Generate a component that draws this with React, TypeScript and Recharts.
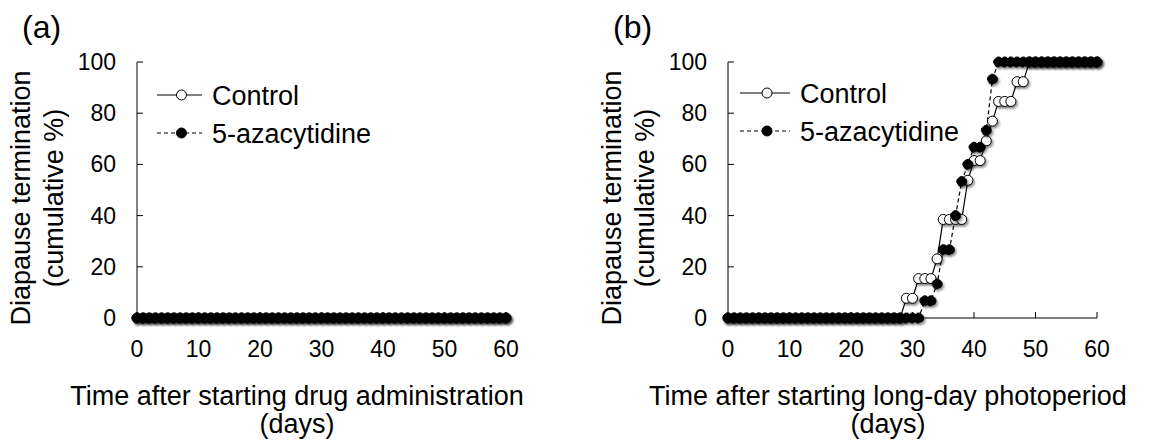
import React from "react";
import { LineChart, Line, XAxis, YAxis, Legend } from "recharts";

// days after start (x categories)
const days = [
  0, 1, 2, 3, 4, 5, 6, 7, 8, 9, 10, 11, 12, 13, 14, 15, 16, 17, 18, 19, 20,
  21, 22, 23, 24, 25, 26, 27, 28, 29, 30, 31, 32, 33, 34, 35, 36, 37, 38, 39, 40,
  41, 42, 43, 44, 45, 46, 47, 48, 49, 50, 51, 52, 53, 54, 55, 56, 57, 58, 59, 60,
];

// (a) drug administration: no diapause termination in either group
const controlA = [
  0, 0, 0, 0, 0, 0, 0, 0, 0, 0, 0, 0, 0, 0, 0, 0, 0, 0, 0, 0, 0,
  0, 0, 0, 0, 0, 0, 0, 0, 0, 0, 0, 0, 0, 0, 0, 0, 0, 0, 0, 0,
  0, 0, 0, 0, 0, 0, 0, 0, 0, 0, 0, 0, 0, 0, 0, 0, 0, 0, 0, 0,
];
const azaA = [
  0, 0, 0, 0, 0, 0, 0, 0, 0, 0, 0, 0, 0, 0, 0, 0, 0, 0, 0, 0, 0,
  0, 0, 0, 0, 0, 0, 0, 0, 0, 0, 0, 0, 0, 0, 0, 0, 0, 0, 0, 0,
  0, 0, 0, 0, 0, 0, 0, 0, 0, 0, 0, 0, 0, 0, 0, 0, 0, 0, 0, 0,
];

// (b) long-day photoperiod
const controlB = [
  0, 0, 0, 0, 0, 0, 0, 0, 0, 0, 0, 0, 0, 0, 0, 0, 0, 0, 0, 0, 0,
  0, 0, 0, 0, 0, 0, 0, 0, 7.7, 7.7, 15.4, 15.4, 15.4, 23.1, 38.5, 38.5, 38.5, 38.5, 53.8, 61.5,
  61.5, 69.2, 76.9, 84.6, 84.6, 84.6, 92.3, 92.3, 100, 100, 100, 100, 100, 100, 100, 100, 100, 100, 100, 100,
];
const azaB = [
  0, 0, 0, 0, 0, 0, 0, 0, 0, 0, 0, 0, 0, 0, 0, 0, 0, 0, 0, 0, 0,
  0, 0, 0, 0, 0, 0, 0, 0, 0, 0, 0, 6.7, 6.7, 13.3, 26.7, 26.7, 40, 53.3, 60, 66.7,
  66.7, 73.3, 93.3, 100, 100, 100, 100, 100, 100, 100, 100, 100, 100, 100, 100, 100, 100, 100, 100, 100,
];

const seriesKeys = ["control", "aza"];
const seriesNames = ["Control", "5-azacytidine"];

const xTicks = [0, 10, 20, 30, 40, 50, 60];
const yTicks = [0, 20, 40, 60, 80, 100];

const FONT = "'Liberation Sans', Arial, sans-serif";

const XTick = (props: any) => {
  const { x, y, payload } = props;
  return (
    <g>
      <line x1={x} x2={x} y1={y} y2={y - 6} stroke="#000" strokeWidth={1} />
      <text x={x} y={y + 39} textAnchor="middle" fontSize={23} fontFamily={FONT} fill="#000">
        {payload.value}
      </text>
    </g>
  );
};

const YTick = (props: any) => {
  const { x, y, payload } = props;
  return (
    <g>
      <line x1={x} x2={x + 6} y1={y} y2={y} stroke="#000" strokeWidth={1} />
      <text x={x - 21} y={y + 8} textAnchor="end" fontSize={23} fontFamily={FONT} fill="#000">
        {payload.value}
      </text>
    </g>
  );
};

function LegendBox({ payload, lineLen }: any) {
  // keep legend rows in series order (Recharts sorts by name otherwise)
  const items = [...(payload || [])].sort(
    (p: any, q: any) => seriesKeys.indexOf(p.dataKey) - seriesKeys.indexOf(q.dataKey)
  );
  return (
    <svg width={300} height={90} style={{ overflow: "visible" }}>
      {items.map((entry: any, i: number) => {
        const cy = 12 + i * 38;
        const dashed = entry.dataKey === "aza";
        return (
          <g key={entry.dataKey}>
            <line
              x1={0}
              x2={lineLen}
              y1={cy}
              y2={cy}
              stroke="#000"
              strokeWidth={1.2}
              strokeDasharray={dashed ? "4 3" : undefined}
            />
            <circle
              cx={lineLen / 2 + 2}
              cy={cy}
              r={5}
              fill={dashed ? "#000" : "#fff"}
              stroke="#000"
              strokeWidth={1}
            />
            <text x={lineLen + 10} y={cy + 9.5} fontSize={27} fontFamily={FONT} fill="#000">
              {entry.value}
            </text>
          </g>
        );
      })}
    </svg>
  );
}

function Panel({
  left,
  width,
  control,
  aza,
  legendLeft,
  legendTop,
  lineLen,
}: {
  left: number;
  width: number;
  control: number[];
  aza: number[];
  legendLeft: number;
  legendTop: number;
  lineLen: number;
}) {
  const data = days.map((d, i) => ({ day: d, control: control[i], aza: aza[i] }));
  return (
    <div style={{ position: "absolute", left, top: 0 }}>
      <LineChart
        width={width}
        height={441}
        data={data}
        margin={{ top: 62, right: width - 506, bottom: 83, left: 0 }}
      >
        <XAxis
          dataKey="day"
          type="number"
          domain={[0, 60]}
          ticks={xTicks}
          height={40}
          tickSize={0}
          tickMargin={0}
          tickLine={false}
          axisLine={{ stroke: "#000", strokeWidth: 1 }}
          tick={(p: any) => <XTick {...p} />}
        />
        <YAxis
          type="number"
          domain={[0, 100]}
          ticks={yTicks}
          width={137}
          tickSize={0}
          tickMargin={0}
          tickLine={false}
          axisLine={{ stroke: "#000", strokeWidth: 1 }}
          tick={(p: any) => <YTick {...p} />}
        />
        <Legend
          layout="horizontal"
          align="center"
          verticalAlign="middle"
          wrapperStyle={{ left: legendLeft, top: legendTop, width: 300, height: 90 }}
          content={(props: any) => <LegendBox {...props} lineLen={lineLen} />}
        />
        <Line
          name={seriesNames[0]}
          dataKey="control"
          type="linear"
          stroke="#000"
          strokeWidth={1.2}
          dot={{ r: 5, fill: "#fff", stroke: "#000", strokeWidth: 1, filter: "url(#markShadow)" }}
          activeDot={false}
          isAnimationActive={false}
        />
        <Line
          name={seriesNames[1]}
          dataKey="aza"
          type="linear"
          stroke="#000"
          strokeWidth={1.2}
          strokeDasharray="4 3"
          dot={{ r: 5, fill: "#000", stroke: "#000", strokeWidth: 1, filter: "url(#markShadow)" }}
          activeDot={false}
          isAnimationActive={false}
        />
      </LineChart>
    </div>
  );
}

function Titles({ dx, letter, xTitle }: { dx: number; letter: string; xTitle: string }) {
  return (
    <g fontFamily={FONT} fill="#000">
      <text x={22 + dx} y={38} fontSize={32}>
        {letter}
      </text>
      <text transform={`translate(${30 + dx},198) rotate(-90)`} textAnchor="middle" fontSize={27}>
        Diapause termination
      </text>
      <text transform={`translate(${63 + dx},198) rotate(-90)`} textAnchor="middle" fontSize={27}>
        (cumulative %)
      </text>
      <text x={297 + dx} y={405} textAnchor="middle" fontSize={27}>
        {xTitle}
      </text>
      <text x={297 + dx} y={433} textAnchor="middle" fontSize={27}>
        (days)
      </text>
    </g>
  );
}

export default function App() {
  return (
    <div
      style={{
        position: "absolute",
        left: 0,
        top: 0,
        width: 1153,
        height: 441,
        overflow: "hidden",
        background: "#fff",
      }}
    >
      <Panel left={0} width={576} control={controlA} aza={azaA} legendLeft={157} legendTop={83} lineLen={45} />
      <Panel left={591} width={562} control={controlB} aza={azaB} legendLeft={149} legendTop={81} lineLen={50} />
      <svg
        width={1153}
        height={441}
        style={{ position: "absolute", left: 0, top: 0, pointerEvents: "none" }}
      >
        <defs>
          <filter id="markShadow" x="-60%" y="-60%" width="240%" height="240%">
            <feDropShadow dx={1.5} dy={2} stdDeviation={1.3} floodColor="#000" floodOpacity={0.45} />
          </filter>
        </defs>
        <Titles dx={0} letter="(a)" xTitle="Time after starting drug administration" />
        <Titles dx={591} letter="(b)" xTitle="Time after starting long-day photoperiod" />
      </svg>
    </div>
  );
}
